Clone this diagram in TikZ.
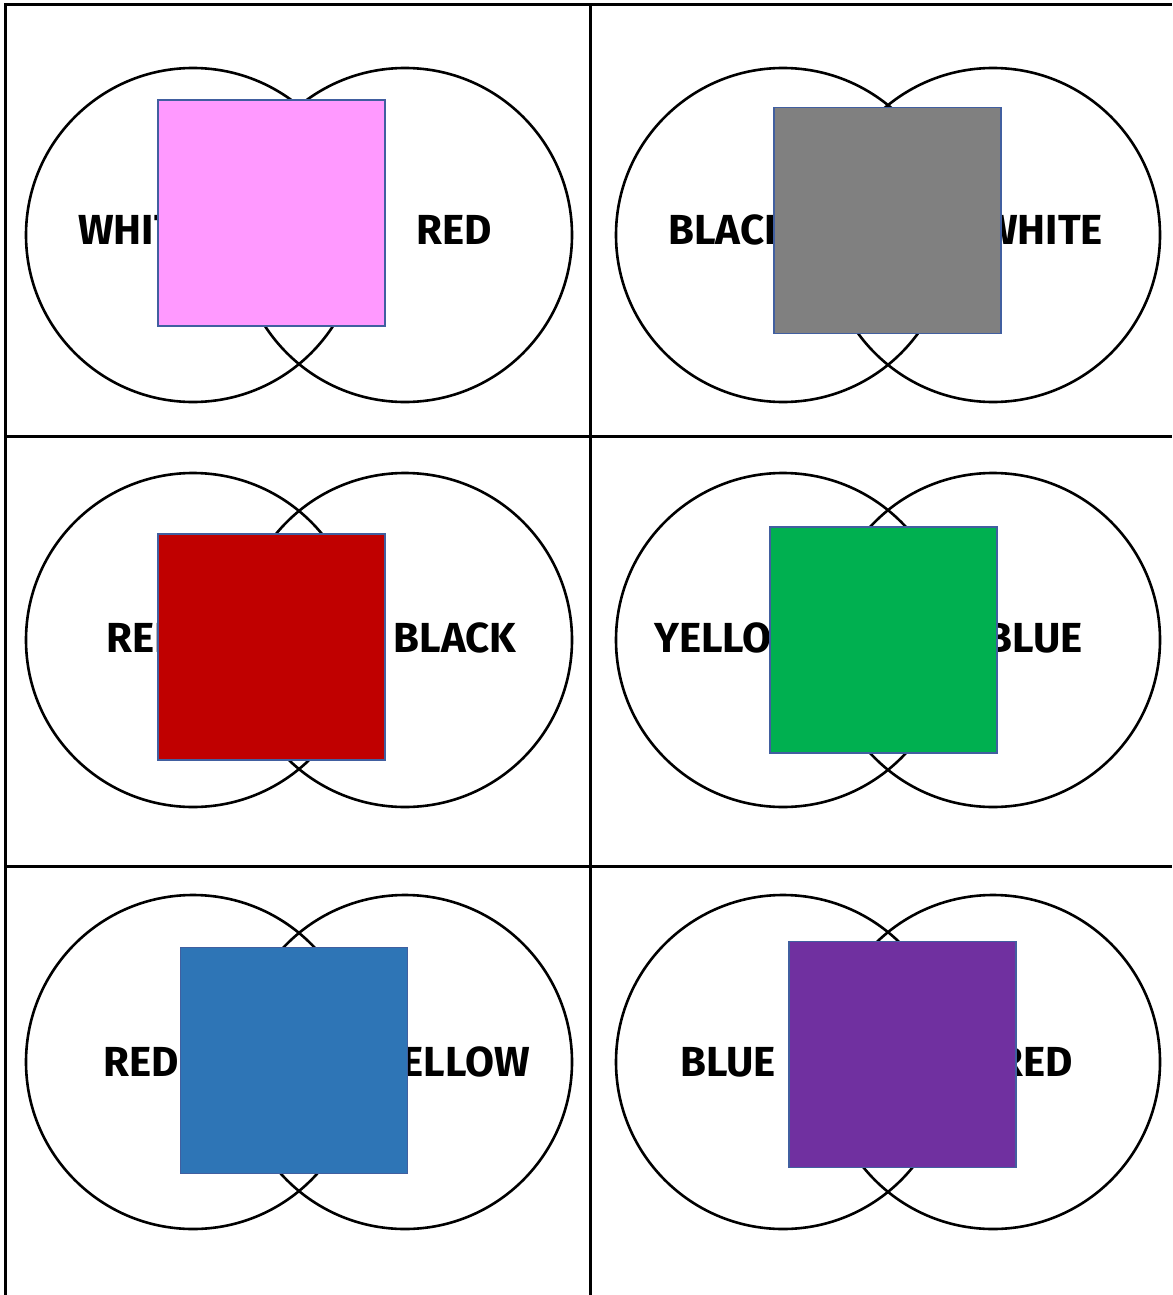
\documentclass[tikz,border=0pt]{standalone}
\usepackage{fontspec}
\setmainfont{Fira Sans}
\definecolor{sqedge}{RGB}{65,95,160}
\definecolor{cpink}{HTML}{FF99FF}
\definecolor{cgray}{HTML}{808080}
\definecolor{cred}{HTML}{C00000}
\definecolor{cgreen}{HTML}{00B050}
\definecolor{cblue}{HTML}{2E75B6}
\definecolor{cpurple}{HTML}{7030A0}
\begin{document}
\begin{tikzpicture}[x=1pt,y=-1pt,
  gridline/.style={line width=3pt,black},
  ring/.style={circle,draw=black,line width=2.6pt,minimum size=334pt,inner sep=0pt},
  lbl/.style={font=\fontsize{42}{42}\selectfont\bfseries,inner sep=0pt,text=black},
  swatch/.style={draw=sqedge,line width=1.8pt,minimum width=227pt,minimum height=226pt,inner sep=0pt}]
\useasboundingbox (0,0) rectangle (1172,1295);
% grid
\coordinate (g1) at (5,5); \coordinate (g2) at (1172,5);
\coordinate (g3) at (5,1295); \coordinate (g4) at (590,5); \coordinate (g5) at (590,1295);
\coordinate (h1) at (5,436); \coordinate (h2) at (1172,436);
\coordinate (h3) at (5,866); \coordinate (h4) at (1172,866);
\draw[gridline] (g2) -- (g1) -- (g3);
\draw[gridline] (g4) -- (g5);
\draw[gridline] (h1) -- (h2);
\draw[gridline] (h3) -- (h4);
% circles
\node[ring] (c11) at (193,235) {};
\node[ring] (c12) at (405,235) {};
\node[ring] (c21) at (783,235) {};
\node[ring] (c22) at (993,235) {};
\node[ring] (c31) at (193,640) {};
\node[ring] (c32) at (405,640) {};
\node[ring] (c41) at (783,640) {};
\node[ring] (c42) at (993,640) {};
\node[ring] (c51) at (193,1062) {};
\node[ring] (c52) at (405,1062) {};
\node[ring] (c61) at (783,1062) {};
\node[ring] (c62) at (993,1062) {};
% labels
\node[lbl,anchor=base west] (t11) at (78,244) {WHITE};
\node[lbl,anchor=base] (t12) at (454,244) {RED};
\node[lbl,anchor=base west] (t21) at (668,244) {BLACK};
\node[lbl,anchor=base east] (t22) at (1103,244) {WHITE};
\node[lbl,anchor=base west] (t31) at (106,652) {RED};
\node[lbl,anchor=base] (t32) at (455,652) {BLACK};
\node[lbl,anchor=base west] (t41) at (654,652) {YELLOW};
\node[lbl,anchor=base east] (t42) at (1083,652) {BLUE};
\node[lbl,anchor=base] (t51) at (141,1076) {RED};
\node[lbl,anchor=base east] (t52) at (530,1076) {YELLOW};
\node[lbl,anchor=base] (t61) at (728,1076) {BLUE};
\node[lbl,anchor=base east] (t62) at (1073,1076) {RED};
% swatches
\node[swatch,fill=cpink] (s1) at (271.5,213) {};
\node[swatch,fill=cgray] (s2) at (887.5,220.5) {};
\node[swatch,fill=cred] (s3) at (271.5,647) {};
\node[swatch,fill=cgreen] (s4) at (883.5,640) {};
\node[swatch,fill=cblue] (s5) at (294,1060.5) {};
\node[swatch,fill=cpurple] (s6) at (902.5,1054.5) {};
\end{tikzpicture}
\end{document}
